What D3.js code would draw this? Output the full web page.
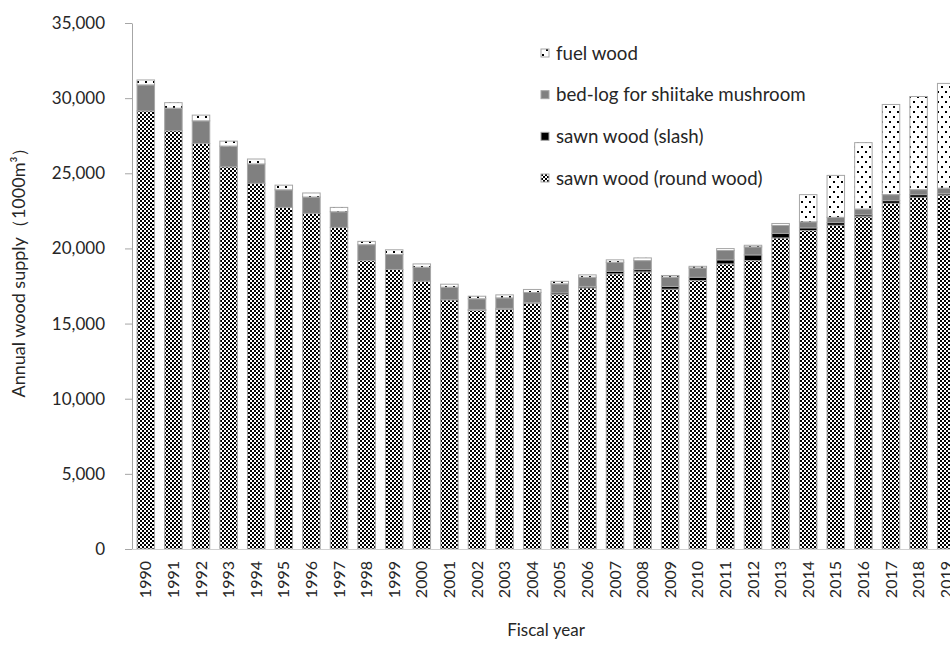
<!DOCTYPE html>
<html>
<head>
<meta charset="utf-8">
<script src="https://cdn.jsdelivr.net/npm/d3@7"></script>
<style>
  html, body { margin: 0; padding: 0; background: #fff; overflow: hidden; }
  text { font-family: Lato, "Open Sans", "Noto Sans", sans-serif; }
</style>
</head>
<body>
<script>
// ---- Data ----
const years = ["1990","1991","1992","1993","1994","1995","1996","1997","1998","1999",
               "2000","2001","2002","2003","2004","2005","2006","2007","2008","2009",
               "2010","2011","2012","2013","2014","2015","2016","2017","2018","2019"];
const roundWood = [29150, 27830, 26980, 25430, 24330, 22730, 22330, 21400, 19190, 18600,
                   17820, 16580, 15870, 15940, 16340, 16930, 17380, 18310, 18440, 17290,
                   17860, 18970, 19190, 20700, 21190, 21540, 22110, 23000, 23400, 23560];
const slash     = [0, 0, 0, 0, 0, 0, 0, 0, 0, 0,
                   0, 0, 70, 70, 60, 110, 90, 170, 150, 180,
                   220, 270, 380, 300, 180, 180, 130, 180, 180, 100];
const bedLog    = [1730, 1500, 1510, 1380, 1290, 1170, 1090, 1040, 1060, 1000,
                   930, 840, 710, 700, 670, 600, 610, 600, 600, 620,
                   620, 620, 530, 530, 400, 350, 380, 400, 330, 350];
const fuelWood  = [330, 370, 380, 330, 330, 310, 270, 290, 220, 310,
                   220, 200, 170, 200, 200, 170, 160, 160, 180, 110,
                   110, 130, 110, 130, 1810, 2790, 4420, 6000, 6200, 6970];
const yTicks = [0, 5000, 10000, 15000, 20000, 25000, 30000, 35000];
const seriesKeys = ["round", "slash", "bed", "fuel"];
const legendLabels = ["fuel wood", "bed-log for shiitake mushroom", "sawn wood (slash)", "sawn wood (round wood)"];
const legendKeys = ["fuel", "bed", "slash", "round"];
const yTitle = "Annual wood supply（1000m³）";
const xTitle = "Fiscal year";

// ---- Table for the stack ----
const rows = years.map((yr, i) => ({
  year: yr, round: roundWood[i], slash: slash[i], bed: bedLog[i], fuel: fuelWood[i]
}));

const W = 950, H = 645;
const svg = d3.select("body").append("svg").attr("width", W).attr("height", H);

// Patterns
const defs = svg.append("defs");
const chk = defs.append("pattern").attr("id", "checker")
  .attr("patternUnits", "userSpaceOnUse").attr("width", 4).attr("height", 4);
chk.append("rect").attr("width", 4).attr("height", 4).attr("fill", "#fff");
chk.append("rect").attr("x", 0).attr("y", 0).attr("width", 2).attr("height", 2).attr("fill", "#000");
chk.append("rect").attr("x", 2).attr("y", 2).attr("width", 2).attr("height", 2).attr("fill", "#000");

const dots = defs.append("pattern").attr("id", "dots")
  .attr("patternUnits", "userSpaceOnUse").attr("width", 8).attr("height", 10);
dots.append("rect").attr("width", 8).attr("height", 10).attr("fill", "#fff");
dots.append("rect").attr("x", 1).attr("y", 1).attr("width", 2).attr("height", 2).attr("fill", "#000");
dots.append("rect").attr("x", 5).attr("y", 6).attr("width", 2).attr("height", 2).attr("fill", "#000");

const fills = { round: "url(#checker)", slash: "#000000", bed: "#808080", fuel: "url(#dots)" };

// Scales
const x = d3.scaleBand().domain(years).range([132, 960]).paddingInner(0.366).paddingOuter(0.183);
const y = d3.scaleLinear().domain([0, 35000]).range([549, 23]);

// Stack
const stacked = d3.stack().keys(seriesKeys)(rows);

svg.append("g").selectAll("g").data(stacked).join("g")
  .attr("fill", d => fills[d.key])
  .selectAll("rect").data(d => d.filter(s => s[1] - s[0] > 0)).join("rect")
  .attr("x", d => x(d.data.year))
  .attr("width", x.bandwidth())
  .attr("y", d => y(d[1]))
  .attr("height", d => y(d[0]) - y(d[1]))
  .attr("stroke", "#a6a6a6")
  .attr("stroke-width", 1);

// Y axis
const yAxis = svg.append("g").attr("transform", "translate(132,0)")
  .call(d3.axisLeft(y).tickValues(yTicks).tickFormat(d3.format(",")).tickSize(7).tickSizeOuter(0).tickPadding(20));
yAxis.select(".domain").attr("stroke", "#a6a6a6");
yAxis.selectAll(".tick line").attr("stroke", "#a6a6a6");
yAxis.selectAll("text").attr("font-size", 17).attr("fill", "#262626")
  .style("font-family", "Lato, 'Open Sans', sans-serif");

// X axis
const xAxis = svg.append("g").attr("transform", "translate(0,549)")
  .call(d3.axisBottom(x).tickSize(0).tickSizeOuter(0));
xAxis.select(".domain").attr("stroke", "#d0d0d0");
xAxis.selectAll("text")
  .attr("transform", "rotate(-90)")
  .attr("x", -12).attr("y", 0).attr("dy", "0.35em")
  .style("text-anchor", "end")
  .attr("font-size", 16).attr("fill", "#262626")
  .style("font-family", "Lato, 'Open Sans', sans-serif");

// Axis titles
svg.append("text").attr("x", 546).attr("y", 636).attr("text-anchor", "middle")
  .attr("font-size", 17).attr("fill", "#262626").text(xTitle);
svg.append("text").attr("transform", "translate(25,268) rotate(-90)").attr("text-anchor", "middle")
  .attr("font-size", 18).attr("fill", "#262626").text(yTitle);

// Legend
const legY = d3.scalePoint().domain(legendKeys).range([53, 178]);
const leg = svg.append("g").selectAll("g").data(legendKeys).join("g")
  .attr("transform", k => `translate(541,${legY(k)})`);
leg.append("rect").attr("x", 0).attr("y", -4).attr("width", 8).attr("height", 8)
  .attr("fill", k => fills[k]).attr("stroke", "#a6a6a6").attr("stroke-width", 1);
leg.append("text").attr("x", 15).attr("y", 0).attr("dy", "0.35em")
  .attr("font-size", 18.7).attr("fill", "#262626")
  .text((k, i) => legendLabels[i]);
</script>
</body>
</html>
